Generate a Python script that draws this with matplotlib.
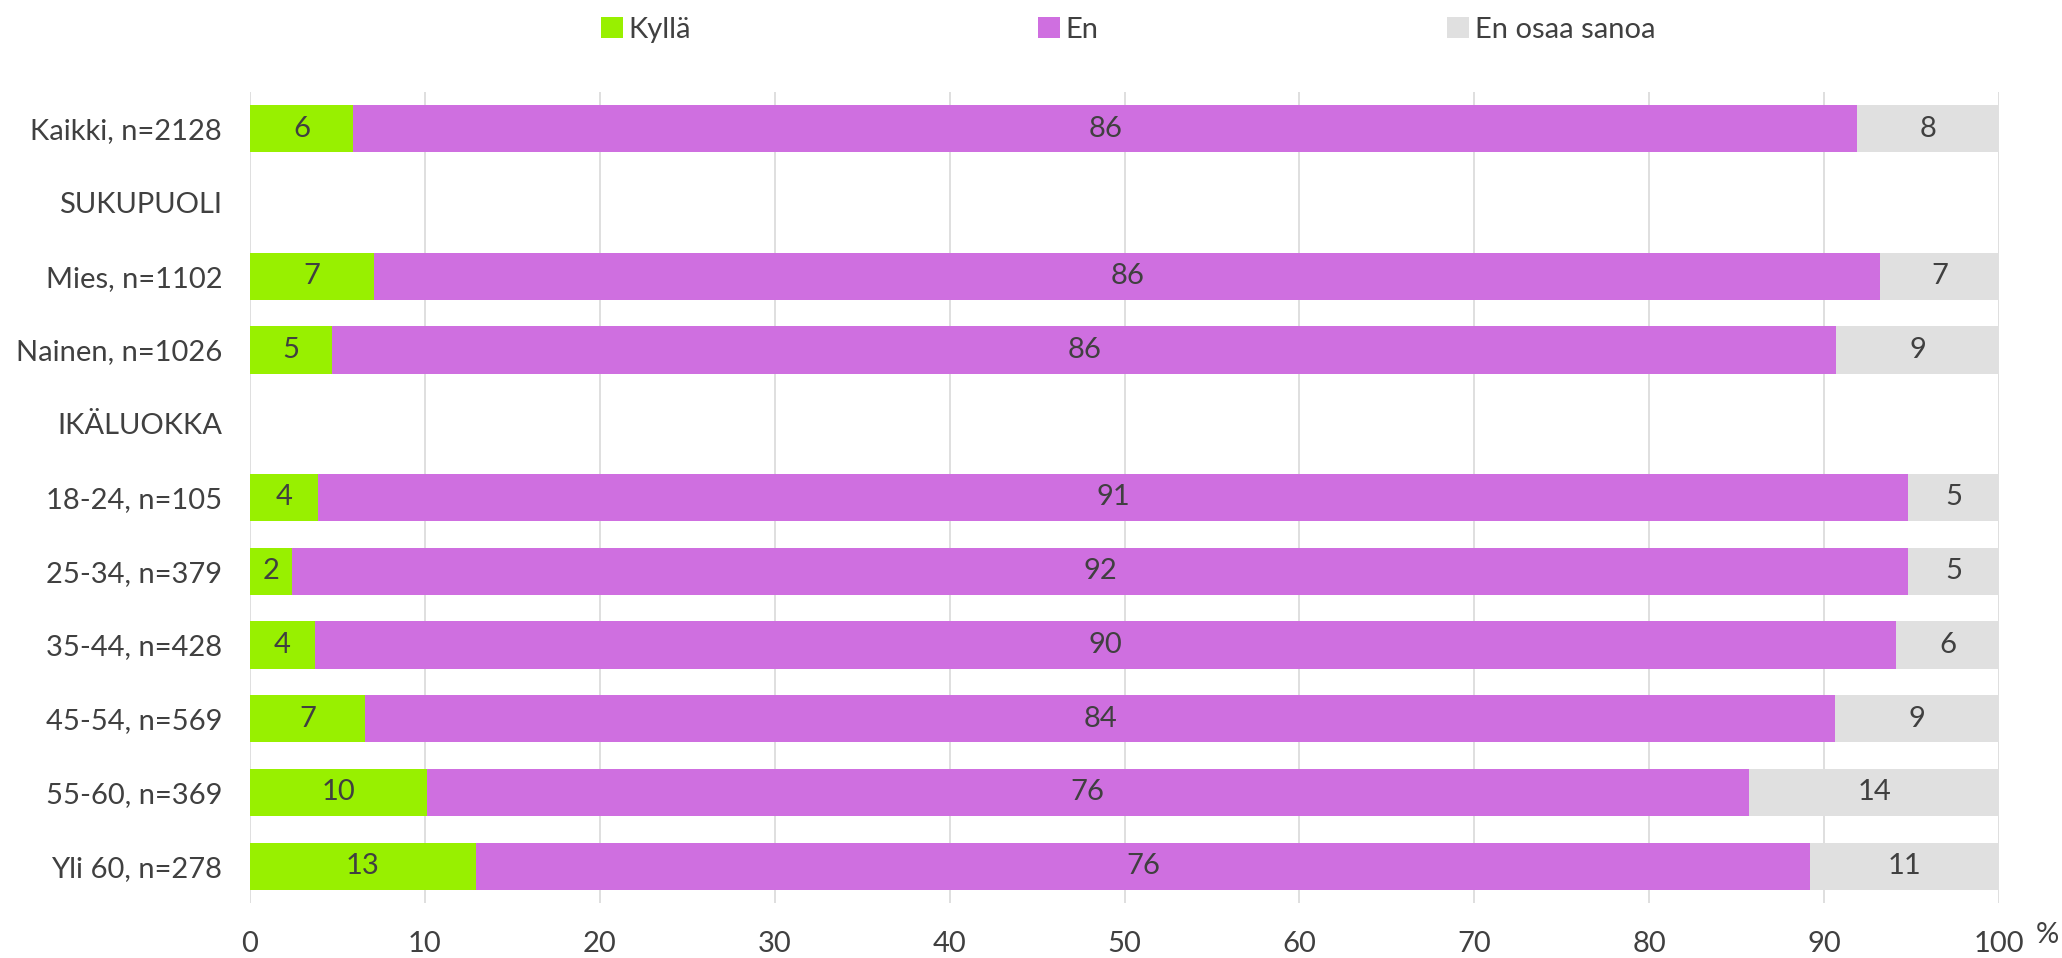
import numpy as np
import matplotlib.pyplot as plt
from matplotlib.patches import Patch

categories = [
    "Kaikki, n=2128",
    "SUKUPUOLI",
    "Mies, n=1102",
    "Nainen, n=1026",
    "IKÄLUOKKA",
    "18-24, n=105",
    "25-34, n=379",
    "35-44, n=428",
    "45-54, n=569",
    "55-60, n=369",
    "Yli 60, n=278",
]

kylla = [5.9, np.nan, 7.1, 4.7, np.nan, 3.9, 2.4, 3.7, 6.6, 10.1, 12.9]
en = [86.0, np.nan, 86.1, 86.0, np.nan, 90.9, 92.4, 90.4, 84.0, 75.6, 76.3]
eos = [8.1, np.nan, 6.8, 9.3, np.nan, 5.2, 5.2, 5.9, 9.4, 14.3, 10.8]

series_names = ["Kyllä", "En", "En osaa sanoa"]
colors = ["#98f000", "#cf6fe0", "#e0e0e0"]
text_color = "#404040"

plt.rcParams["font.family"] = ["Lato", "DejaVu Sans"]

fig = plt.figure(figsize=(20.62, 9.58), dpi=100)
ax = fig.add_axes([0.1212, 0.0574, 0.8483, 0.8466])

y = np.arange(len(categories))
left = np.zeros(len(categories))

for values, name, color in zip([kylla, en, eos], series_names, colors):
    vals = np.array(values)
    ax.barh(y, vals, left=left, height=0.64, color=color, label=name, zorder=3)
    for yi, (l, v) in enumerate(zip(left, vals)):
        if not np.isnan(v):
            ax.text(l + v / 2, yi, f"{v:.0f}", ha="center", va="center",
                    fontsize=21, color=text_color, zorder=4)
    left = left + np.nan_to_num(vals)

ax.set_xlim(0, 100)
ax.set_ylim(len(categories) - 0.5, -0.5)
ax.set_xticks(range(0, 101, 10))
ax.set_yticks(y)
ax.set_yticklabels(categories)
ax.tick_params(axis="both", length=0, labelsize=21, colors=text_color, pad=20)
ax.xaxis.grid(True, color="#d9d9d9", linewidth=1.2, zorder=0)
for s in ax.spines.values():
    s.set_visible(False)

fig.text(0.993, 0.024, "%", fontsize=21, color=text_color, ha="center", va="center")

# legend entries spaced like the original
legend_x = [0.2915, 0.5034, 0.7017]
for x, name, color in zip(legend_x, series_names, colors):
    fig.legend(handles=[Patch(facecolor=color)], labels=[name],
               loc="center left", bbox_to_anchor=(x, 0.969), frameon=False,
               fontsize=21, labelcolor=text_color, handlelength=0.75,
               handleheight=0.75, handletextpad=0.2, borderaxespad=0, borderpad=0)

plt.savefig("out.png", dpi=100)
